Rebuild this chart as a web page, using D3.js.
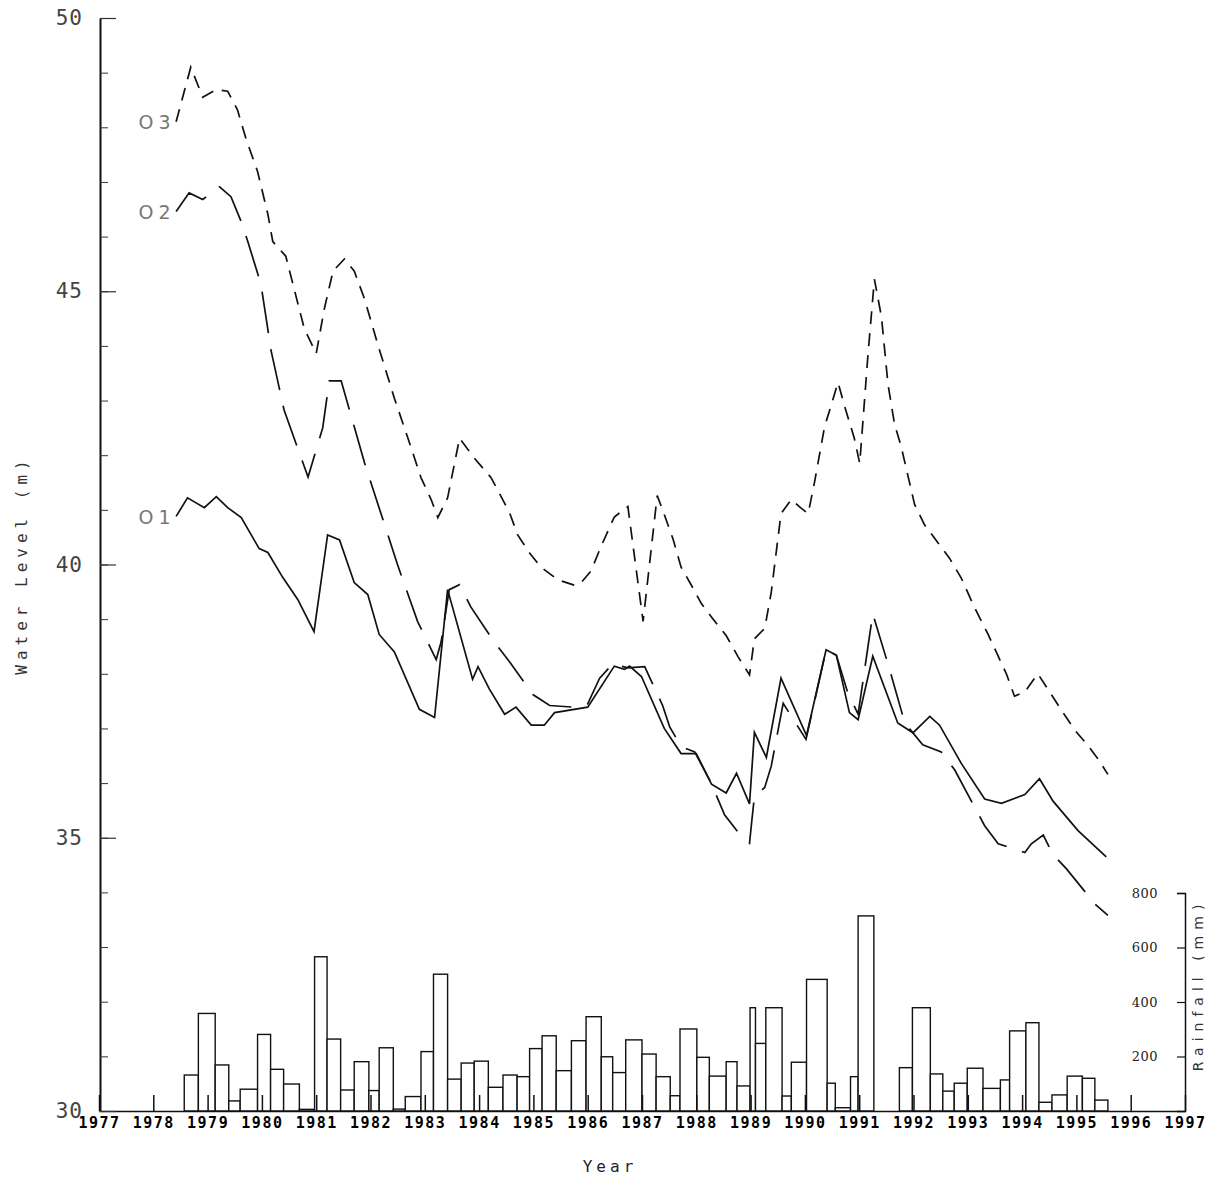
<!DOCTYPE html>
<html><head><meta charset="utf-8">
<script src="https://cdn.jsdelivr.net/npm/d3@7"></script>
<style>
body{margin:0;background:#fff}
text{font-variant-numeric:slashed-zero;font-feature-settings:"zero" 1}
</style>
</head><body>
<svg id="chart" width="1221" height="1183"></svg>
<script>
// ---------------- data ----------------
const yearTicks = d3.range(1977, 1998);
const levelTicks = [30, 35, 40, 45, 50];
const rainTicks = [200, 400, 600, 800];

// rainfall periods (decimal years) and totals (mm)
const rainStart = [1978.57,1978.83,1979.14,1979.39,1979.60,1979.92,1980.16,1980.40,1980.69,1980.97,
  1981.20,1981.45,1981.70,1981.97,1982.16,1982.42,1982.64,1982.93,1983.16,1983.42,
  1983.67,1983.91,1984.17,1984.44,1984.70,1984.93,1985.16,1985.42,1985.70,1985.97,
  1986.25,1986.46,1986.70,1987.00,1987.26,1987.52,1987.70,1988.01,1988.24,1988.55,
  1988.75,1988.99,1989.09,1989.28,1989.58,1989.75,1990.03,1990.41,1990.56,1990.84,
  1990.98,1991.74,1991.98,1992.31,1992.54,1992.75,1992.99,1993.28,1993.60,1993.77,
  1994.07,1994.31,1994.55,1994.83,1995.11,1995.34];
const rainEnd = [1978.83,1979.14,1979.39,1979.60,1979.92,1980.16,1980.40,1980.69,1980.97,1981.20,
  1981.45,1981.70,1981.97,1982.16,1982.42,1982.64,1982.93,1983.16,1983.42,1983.67,
  1983.91,1984.17,1984.44,1984.70,1984.93,1985.16,1985.42,1985.70,1985.97,1986.25,
  1986.46,1986.70,1987.00,1987.26,1987.52,1987.70,1988.01,1988.24,1988.55,1988.75,
  1988.99,1989.09,1989.28,1989.58,1989.75,1990.03,1990.41,1990.56,1990.84,1990.98,
  1991.27,1991.98,1992.31,1992.54,1992.75,1992.99,1993.28,1993.60,1993.77,1994.07,
  1994.31,1994.55,1994.83,1995.11,1995.34,1995.58];
const rainMm = [132,358,169,37,80,281,153,99,6,566,
  264,77,181,75,232,7,53,218,502,117,
  176,183,87,132,126,229,276,148,258,346,
  199,141,261,209,126,56,301,197,128,181,
  92,379,248,379,55,179,483,102,12,126,
  716,159,379,136,73,102,157,83,114,294,
  324,32,59,128,120,40];

// well O1 (solid)
const o1Year = [1978.42,1978.63,1978.94,1979.16,1979.37,1979.62,1979.95,1980.11,1980.38,1980.66,
  1980.96,1981.21,1981.43,1981.70,1981.95,1982.16,1982.44,1982.90,1983.18,1983.42,
  1983.88,1983.98,1984.19,1984.47,1984.68,1984.96,1985.20,1985.39,1986.00,1986.49,
  1986.68,1986.77,1986.99,1987.41,1987.72,1988.00,1988.28,1988.55,1988.74,1988.98,
  1989.07,1989.29,1989.56,1990.03,1990.39,1990.58,1990.82,1990.98,1991.25,1991.71,
  1991.99,1992.30,1992.48,1992.88,1993.31,1993.62,1994.05,1994.32,1994.57,1995.03,1995.55];
const o1Level = [40.88,41.22,41.04,41.24,41.04,40.86,40.29,40.22,39.77,39.36,
  38.77,40.54,40.45,39.67,39.45,38.72,38.40,37.35,37.20,39.54,
  37.90,38.13,37.72,37.26,37.39,37.06,37.06,37.29,37.39,38.14,
  38.08,38.14,37.95,37.00,36.54,36.54,35.98,35.82,36.18,35.62,
  36.93,36.47,37.92,36.87,38.44,38.34,37.29,37.16,38.32,37.10,
  36.92,37.22,37.06,36.36,35.71,35.63,35.79,36.08,35.67,35.13,34.65];

// well O2 (long dash)
const o2Year = [1978.42,1978.66,1978.91,1979.22,1979.43,1979.62,1979.74,1979.98,1980.17,1980.41,
  1980.85,1981.12,1981.24,1981.46,1981.89,1982.50,1982.87,1983.21,1983.30,
  1983.45,1983.64,1983.85,1984.28,1984.56,1984.99,1985.30,1985.73,1986.00,1986.22,
  1986.46,1986.74,1987.05,1987.38,1987.51,1987.72,1987.97,1988.27,1988.52,1988.77,
  1988.98,1989.02,1989.07,1989.26,1989.38,1989.60,1990.02,1990.39,1990.58,1990.79,
  1990.98,1991.25,1991.56,1991.84,1992.17,1992.51,1992.76,1993.31,1993.56,1994.05,
  1994.17,1994.39,1994.57,1994.81,1995.34,1995.58];
const o2Level = [46.46,46.80,46.68,46.91,46.73,46.27,45.91,45.14,43.91,42.82,
  41.60,42.50,43.36,43.36,41.86,39.99,38.95,38.26,38.58,
  39.54,39.63,39.22,38.58,38.22,37.62,37.42,37.39,37.45,37.92,
  38.18,38.11,38.13,37.42,37.03,36.67,36.57,36.01,35.42,35.10,
  34.90,35.29,35.75,35.92,36.31,37.46,36.80,38.44,38.34,37.65,
  37.26,39.10,38.08,37.10,36.70,36.57,36.24,35.22,34.89,34.73,
  34.89,35.05,34.69,34.44,33.79,33.58];

// well O3 (short dash)
const o3Year = [1978.42,1978.69,1978.91,1979.16,1979.37,1979.55,1979.71,1979.92,1980.11,1980.20,
  1980.44,1980.78,1981.00,1981.15,1981.31,1981.52,1981.70,1981.89,1982.13,1982.44,
  1982.69,1982.93,1983.12,1983.24,1983.42,1983.64,1983.91,1984.22,1984.56,1984.71,
  1984.93,1985.14,1985.45,1985.76,1985.88,1986.06,1986.25,1986.49,1986.74,1987.02,
  1987.28,1987.38,1987.57,1987.72,1987.91,1988.09,1988.31,1988.55,1988.77,1988.98,
  1989.07,1989.26,1989.38,1989.56,1989.75,1989.93,1990.06,1990.18,1990.36,1990.61,
  1990.73,1990.91,1991.01,1991.16,1991.28,1991.41,1991.53,1991.65,1991.77,1992.02,
  1992.20,1992.45,1992.66,1992.88,1993.12,1993.37,1993.71,1993.86,1994.05,1994.29,
  1994.48,1994.72,1994.97,1995.21,1995.40,1995.58];
const o3Level = [48.10,49.10,48.55,48.69,48.66,48.32,47.78,47.19,46.41,45.91,
  45.64,44.32,43.86,44.68,45.37,45.59,45.37,44.86,44.04,43.04,
  42.31,41.59,41.18,40.86,41.22,42.31,41.95,41.59,40.95,40.54,
  40.21,39.95,39.72,39.62,39.67,39.88,40.34,40.87,41.06,38.96,
  41.26,41.00,40.47,39.95,39.62,39.29,39.00,38.70,38.31,37.98,
  38.64,38.83,39.49,40.93,41.19,41.03,40.93,41.52,42.51,43.33,
  42.90,42.31,41.85,43.82,45.22,44.53,43.30,42.57,42.17,41.10,
  40.73,40.40,40.12,39.75,39.22,38.73,38.00,37.59,37.67,38.00,
  37.71,37.34,36.97,36.69,36.44,36.16];

const wellNames = ["O1", "O2", "O3"];

// ---------------- drawing ----------------
const svg = d3.select("#chart");
const x = d3.scaleLinear().domain([1977, 1997]).range([99, 1185]);
const y = d3.scaleLinear().domain([30, 50]).range([1111, 18]);
const yr = d3.scaleLinear().domain([0, 800]).range([1111, 893]);

const ink = "#111";
const mono = "'DejaVu Sans Mono', 'Liberation Mono', monospace";

// rainfall bars
svg.append("g").selectAll("rect")
  .data(d3.zip(rainStart, rainEnd, rainMm))
  .join("rect")
  .attr("x", d => x(d[0]))
  .attr("width", d => x(d[1]) - x(d[0]))
  .attr("y", d => yr(d[2]))
  .attr("height", d => yr(0) - yr(d[2]))
  .attr("fill", "#fff")
  .attr("stroke", ink)
  .attr("stroke-width", 1.4);

// bottom axis (year ticks pointing up)
const xAxis = svg.append("g").attr("transform", "translate(0,1111)")
  .call(d3.axisBottom(x).tickValues(yearTicks).tickFormat(d3.format("d"))
    .tickSizeInner(-16).tickSizeOuter(0).tickPadding(6));
xAxis.select(".domain").attr("stroke", ink).attr("stroke-width", 1.5);
xAxis.selectAll(".tick line").attr("stroke", ink).attr("stroke-width", 1.5);
xAxis.selectAll(".tick text").attr("font-family", mono).attr("font-size", 15)
  .attr("font-weight", "bold").attr("letter-spacing", 1.5).attr("fill", "#000");

// left axis minor ticks
const yMinor = svg.append("g").attr("transform", "translate(100,0)")
  .call(d3.axisLeft(y).tickValues(d3.range(30, 51, 1)).tickSizeInner(-8).tickSizeOuter(0).tickFormat(""));
yMinor.selectAll(".tick line").attr("stroke", "#333").attr("stroke-width", 1);
yMinor.select(".domain").attr("stroke", ink).attr("stroke-width", 2);

// left axis major ticks + labels
const yAxis = svg.append("g").attr("transform", "translate(100,0)")
  .call(d3.axisLeft(y).tickValues(levelTicks).tickSizeInner(-16).tickSizeOuter(0).tickPadding(17));
yAxis.select(".domain").remove();
yAxis.selectAll(".tick line").attr("stroke", "#333").attr("stroke-width", 1.2);
yAxis.selectAll(".tick text").attr("font-family", mono).attr("font-size", 21)
  .attr("letter-spacing", 1).attr("fill", "#444");

// right rainfall axis
const rAxis = svg.append("g").attr("transform", "translate(1185,0)")
  .call(d3.axisLeft(yr).tickValues(rainTicks).tickSizeInner(8).tickSizeOuter(8).tickPadding(19));
rAxis.select(".domain").attr("stroke", ink).attr("stroke-width", 1.5);
rAxis.selectAll(".tick line").attr("stroke", ink).attr("stroke-width", 1.2);
rAxis.selectAll(".tick text").attr("font-family", "'DejaVu Serif', serif").attr("font-size", 13)
  .attr("letter-spacing", 0.5).attr("fill", "#222");

// water level lines
const line = d3.line().x(d => x(d[0])).y(d => y(d[1]));
const series = [
  {name: wellNames[0], data: d3.zip(o1Year, o1Level), dash: null},
  {name: wellNames[1], data: d3.zip(o2Year, o2Level), dash: "42,16"},
  {name: wellNames[2], data: d3.zip(o3Year, o3Level), dash: "13,9"}
];
svg.append("g").selectAll("path")
  .data(series)
  .join("path")
  .attr("d", d => line(d.data))
  .attr("fill", "none")
  .attr("stroke", ink)
  .attr("stroke-width", 1.7)
  .attr("stroke-dasharray", d => d.dash);

// series labels
svg.append("g").selectAll("text")
  .data(series)
  .join("text")
  .attr("x", 157)
  .attr("y", d => y(d.data[0][1]) + 2)
  .attr("text-anchor", "middle")
  .attr("dominant-baseline", "middle")
  .attr("font-family", "'DejaVu Sans', sans-serif")
  .attr("font-size", 19)
  .attr("letter-spacing", 5)
  .attr("fill", "#777")
  .text(d => d.name);

// axis titles
svg.append("text")
  .attr("x", 610).attr("y", 1172)
  .attr("text-anchor", "middle")
  .attr("font-family", mono).attr("font-size", 16).attr("letter-spacing", 4)
  .attr("fill", "#222")
  .text("Year");

svg.append("text")
  .attr("transform", "translate(27,565) rotate(-90)")
  .attr("text-anchor", "middle")
  .attr("font-family", mono).attr("font-size", 16).attr("letter-spacing", 5)
  .attr("fill", "#333")
  .text("Water Level (m)");

svg.append("text")
  .attr("transform", "translate(1203,985) rotate(-90)")
  .attr("text-anchor", "middle")
  .attr("font-family", "'DejaVu Sans', sans-serif").attr("font-size", 14).attr("letter-spacing", 6)
  .attr("fill", "#333")
  .text("Rainfall (mm)");
</script>
</body></html>
